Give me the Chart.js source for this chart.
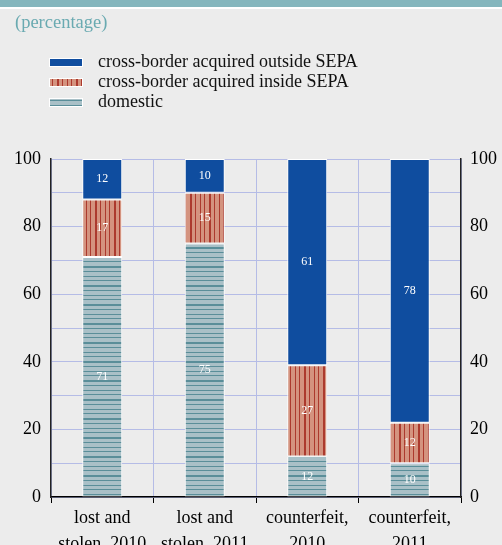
<!DOCTYPE html>
<html>
<head>
<meta charset="utf-8">
<script src="https://cdn.jsdelivr.net/npm/chart.js@4.4.1/dist/chart.umd.min.js"></script>
<style>
  body { margin: 0; background: #ececec; }
  canvas { display: block; }
</style>
</head>
<body>
<canvas id="chart" width="502" height="545"></canvas>
<script>
const categories = [["lost and", "stolen, 2010"], ["lost and", "stolen, 2011"], ["counterfeit,", "2010"], ["counterfeit,", "2011"]];
const outsideSepa = [12, 10, 61, 78];
const insideSepa = [17, 15, 27, 12];
const domestic = [71, 75, 12, 10];
const yLabels = [0, 20, 40, 60, 80, 100];
const legendNames = ["cross-border acquired outside SEPA", "cross-border acquired inside SEPA", "domestic"];

const serif = '"Liberation Serif", "Times New Roman", serif';

// striped fills, 19px tile: one thick line then three thin ones
function stripes(bg, fg, vertical) {
    let c = document.createElement("canvas");
    c.width = 19;
    c.height = 19;
    let g = c.getContext("2d");
    g.fillStyle = bg;
    g.fillRect(0, 0, 19, 19);
    g.fillStyle = fg;
    [[0, 2], [5, 1], [10, 1], [14, 1]].forEach(([p, w]) => {
        if (vertical) g.fillRect(p, 0, w, 19);
        else g.fillRect(0, p, 19, w);
    });
    return g.createPattern(c, "repeat");
}

const blueFill = "#0f4d9f";
const redFill = stripes("#d4937f", "#ac3a2e", true);
const greyFill = stripes("#a9c0c7", "#5a8e99", false);

const frame = {
    id: "frame",
    beforeDraw(chart) {
        let ctx = chart.ctx;
        ctx.save();
        ctx.fillStyle = "#ececec";
        ctx.fillRect(0, 0, chart.width, chart.height);
        ctx.fillStyle = "#84b6bd";
        ctx.fillRect(0, 0, chart.width, 7);
        ctx.fillStyle = "#ffffff";
        ctx.fillRect(0, 7, chart.width, 2);
        ctx.font = "18.5px " + serif;
        ctx.textBaseline = "middle";
        ctx.fillStyle = "#6aaab1";
        ctx.fillText("(percentage)", 15, 23);

        let fills = [blueFill, redFill, greyFill];
        ctx.font = "18px " + serif;
        legendNames.forEach((name, i) => {
            let y = 62 + i * 20;
            ctx.fillStyle = fills[i];
            ctx.fillRect(50, y - 3, 32, 7);
            ctx.strokeStyle = "#ffffff";
            ctx.lineWidth = 1;
            ctx.strokeRect(49.5, y - 3.5, 33, 8);
            ctx.fillStyle = "#111111";
            ctx.fillText(name, 98, y);
        });
        ctx.restore();
    },
};

const barLabels = {
    id: "barLabels",
    afterDatasetsDraw(chart) {
        let ctx = chart.ctx;
        ctx.save();
        ctx.font = "12px " + serif;
        ctx.fillStyle = "#ffffff";
        ctx.textAlign = "center";
        ctx.textBaseline = "middle";
        chart.data.datasets.forEach((ds, i) => {
            chart.getDatasetMeta(i).data.forEach((bar, j) => {
                let p = bar.getCenterPoint();
                ctx.fillText(ds.data[j], p.x, p.y);
            });
        });
        ctx.restore();
    },
};

function bars(label, data, fill) {
    return {
        label: label,
        data: data,
        backgroundColor: fill,
        borderColor: "#ffffff",
        borderWidth: 1,
        borderSkipped: false,
        barPercentage: 0.39,
        categoryPercentage: 1,
    };
}

const gridColor = "#b5bce6";

new Chart(document.getElementById("chart").getContext("2d"), {
    type: "bar",
    data: {
        labels: categories,
        datasets: [
            bars(legendNames[2], domestic, greyFill),
            bars(legendNames[1], insideSepa, redFill),
            bars(legendNames[0], outsideSepa, blueFill),
        ],
    },
    options: {
        responsive: false,
        animation: false,
        devicePixelRatio: 1,
        layout: { padding: { top: 159, left: 0, right: 0, bottom: 0 } },
        plugins: {
            legend: { display: false },
            tooltip: { enabled: false },
        },
        scales: {
            x: {
                stacked: true,
                grid: { color: gridColor, tickColor: "#000000", tickLength: 6, offset: true },
                border: { color: "#000000", width: 1.5 },
                ticks: {
                    color: "#000000",
                    font: { family: serif, size: 18, lineHeight: 1.4 },
                    padding: 3,
                    maxRotation: 0,
                    autoSkip: false,
                },
                afterFit(scale) { scale.height = 48; },
            },
            y: {
                stacked: true,
                min: 0,
                max: 100,
                grid: { color: gridColor, drawTicks: false },
                border: { color: "#222222", width: 1.5 },
                ticks: {
                    stepSize: 10,
                    color: "#000000",
                    font: { family: serif, size: 18 },
                    padding: 10,
                    callback: (v) => (yLabels.includes(v) ? v : ""),
                },
                afterFit(scale) { scale.width = 51; },
            },
            y2: {
                position: "right",
                min: 0,
                max: 100,
                grid: { drawOnChartArea: false, drawTicks: false },
                border: { color: "#222222", width: 1.5 },
                ticks: {
                    stepSize: 10,
                    color: "#000000",
                    font: { family: serif, size: 18 },
                    padding: 9,
                    callback: (v) => (yLabels.includes(v) ? v : ""),
                },
                afterFit(scale) { scale.width = 41; },
            },
        },
    },
    plugins: [frame, barLabels],
});
</script>
</body>
</html>
